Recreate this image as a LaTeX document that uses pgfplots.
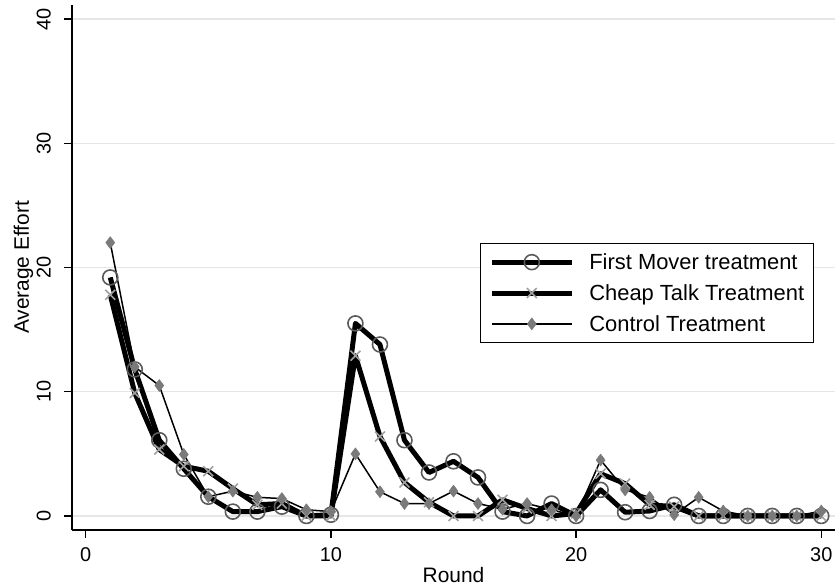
\documentclass[border=0pt]{standalone}
\usepackage{pgfplots}
\pgfplotsset{compat=1.18}
\usepackage{fontspec}
\setmainfont{Liberation Sans}
\definecolor{circgray}{HTML}{5A5A5A}
\definecolor{xgray}{HTML}{A0A0A0}
\definecolor{diagray}{HTML}{7A7A7A}
\definecolor{gridgray}{HTML}{E6E6E6}
\begin{document}
\begin{tikzpicture}
\begin{axis}[
  name=ax,
  scale only axis, width=763bp, height=525bp,
  xmin=-0.56, xmax=30.56, ymin=-1.13, ymax=41.13,
  axis lines=left,
  axis line style={-, line width=1.2bp, black},
  xtick={0,10,20,30}, ytick={0,10,20,30,40},
  tick align=outside, major tick length=8bp,
  tick style={line width=1.2bp, black},
  minor tick num=0,
  ymajorgrids, grid style={gridgray, line width=1.5bp},
  /pgf/number format/assume math mode=true,
  tick label style={font=\fontsize{20}{24}\selectfont},
  yticklabel style={rotate=90, anchor=south, inner sep=0pt, yshift=13bp},
  xticklabel style={inner sep=0pt, yshift=-9bp},
  label style={font=\fontsize{21}{25}\selectfont},
  xlabel={Round}, ylabel={Average Effort},
  xlabel style={yshift=-3bp},
  ylabel style={yshift=0bp},
  legend style={at={(rel axis cs:0.972,0.5467)}, anchor=north east,
    draw=black, line width=1bp, font=\fontsize{22}{26}\selectfont,
    nodes={inner xsep=0bp},
    inner xsep=9bp, inner ysep=8bp, row sep=9.5bp, column sep=15bp},
  legend cell align=left,
  legend image code/.code={\draw[mark repeat=2,mark phase=2] plot coordinates {(0bp,0bp) (40bp,0bp) (80bp,0bp)};},
]
\addplot[black, line width=5bp, line join=round,
  mark=o, mark size=7.5bp, mark options={draw=circgray, line width=1.6bp, fill=none}]
coordinates {
(1,19.2) (2,11.8) (3,6.1) (4,3.8) (5,1.55) (6,0.35) (7,0.35) (8,0.75) (9,0) (10,0.1)
(11,15.5) (12,13.8) (13,6.1) (14,3.5) (15,4.4) (16,3.1) (17,0.35) (18,0) (19,1.0) (20,0)
(21,2.1) (22,0.3) (23,0.4) (24,0.9) (25,0) (26,0) (27,0) (28,0) (29,0) (30,0)
};
\addlegendentry{First Mover treatment}
\addplot[black, line width=5bp, line join=round,
  mark=x, mark size=7bp, mark options={draw=xgray, line width=1.6bp}]
coordinates {
(1,17.8) (2,9.9) (3,5.35) (4,4.0) (5,3.6) (6,2.2) (7,0.9) (8,1.0) (9,0) (10,0)
(11,12.9) (12,6.4) (13,2.7) (14,1.1) (15,0) (16,0) (17,1.3) (18,0.6) (19,0) (20,0.2)
(21,3.4) (22,2.6) (23,0.9) (24,0.75) (25,0) (26,0) (27,0) (28,0) (29,0) (30,0)
};
\addlegendentry{Cheap Talk Treatment}
\addplot[black, line width=1.5bp, line join=round,
  mark=diamond*, mark size=6bp, mark options={draw=diagray, fill=diagray, line width=0.5bp}]
coordinates {
(1,22) (2,12) (3,10.5) (4,4.95) (5,1.55) (6,2.0) (7,1.5) (8,1.4) (9,0.5) (10,0.35)
(11,5.0) (12,1.95) (13,1.0) (14,1.0) (15,2.0) (16,1.0) (17,0.55) (18,1.0) (19,0.5) (20,0)
(21,4.5) (22,2.1) (23,1.5) (24,0.1) (25,1.5) (26,0.4) (27,0) (28,0) (29,0) (30,0.4)
};
\addlegendentry{Control Treatment}
\end{axis}
\pgfresetboundingbox
\useasboundingbox ([xshift=-72bp,yshift=-58bp]ax.south west) rectangle ([yshift=5bp]ax.north east);
\end{tikzpicture}
\end{document}
